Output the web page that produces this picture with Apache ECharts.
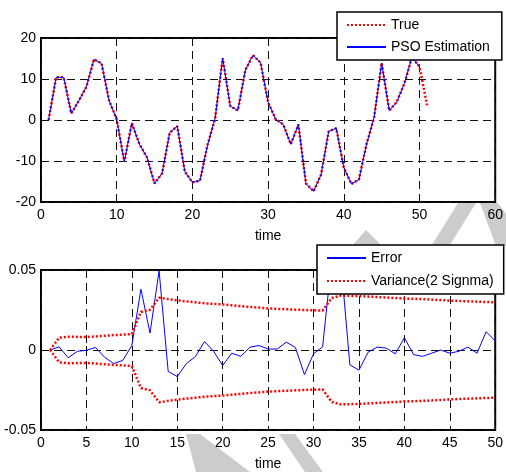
<!DOCTYPE html>
<html><head><meta charset="utf-8">
<script src="https://cdn.jsdelivr.net/npm/echarts@6/dist/echarts.min.js"></script>
<style>html,body{margin:0;padding:0;background:#fff}#c{width:506px;height:472px}</style>
</head><body><div id="c"></div>
<script>
// ---- data ----
const timeTop = [1,2,3,4,5,6,7,8,9,10,11,12,13,14,15,16,17,18,19,20,21,22,23,24,25,26,27,28,29,30,31,32,33,34,35,36,37,38,39,40,41,42,43,44,45,46,47,48,49,50,51];
const trueVals = [0,10.4,10.4,1.6,4.7,8.1,14.8,13.8,4.7,0.2,-10.2,-0.8,-5.9,-9.1,-15.5,-13.0,-3.1,-1.5,-12.6,-15.2,-14.8,-6.1,0.4,15.1,3.4,2.3,12.2,15.8,14.0,4.3,0.2,-1.1,-5.9,-1.1,-15.5,-17.4,-13.3,-2.8,-2.0,-11.6,-15.6,-14.5,-5.9,0.6,13.9,2.3,4.4,8.9,15.3,13.0,3.6];
const psoVals = [0,10.4,10.4,1.6,4.7,8.1,14.8,13.8,4.7,0.2,-10.2,-0.8,-5.9,-9.1,-15.5,-13.0,-3.1,-1.5,-12.6,-15.2,-14.8,-6.1,0.4,15.1,3.4,2.3,12.2,15.8,14.0,4.3,0.2,-1.1,-5.9,-1.1,-15.5,-17.4,-13.3,-2.8,-2.0,-11.6,-15.6,-14.5,-5.9,0.6,13.9,2.3,4.4,8.9,15.3,13.0];
const timeBottom = [1,2,3,4,5,6,7,8,9,10,11,12,13,14,15,16,17,18,19,20,21,22,23,24,25,26,27,28,29,30,31,32,33,34,35,36,37,38,39,40,41,42,43,44,45,46,47,48,49,50];
const errorVals = [0,0.002,-0.0049,-0.0008,-0.0002,0.0016,-0.0045,-0.0085,-0.0065,0.0028,0.038,0.0106,0.0495,-0.0134,-0.0166,-0.0085,-0.0041,0.0053,-0.0008,-0.0097,-0.002,-0.004,0.0018,0.0028,0.0006,0.0006,0.0049,0.0016,-0.0154,-0.0024,0.002,0.056,0.056,-0.0093,-0.0126,-0.0014,0.0018,0.0012,-0.0024,0.0077,-0.0028,-0.004,-0.002,0,-0.002,-0.0008,0.0018,-0.002,0.0114,0.0057];
const varUpper = [0,0.0077,0.0083,0.0082,0.0081,0.0085,0.0089,0.0093,0.0096,0.0100,0.0238,0.0252,0.0326,0.0318,0.0310,0.0304,0.0298,0.0292,0.0288,0.0285,0.0279,0.0274,0.0269,0.0265,0.0260,0.0257,0.0255,0.0252,0.0250,0.0248,0.0246,0.0325,0.0340,0.0339,0.0337,0.0334,0.0331,0.0328,0.0325,0.0322,0.0320,0.0318,0.0315,0.0312,0.0309,0.0306,0.0304,0.0302,0.0300,0.0298];
const varLower = [0,-0.0077,-0.0083,-0.0082,-0.0081,-0.0085,-0.0089,-0.0093,-0.0096,-0.0100,-0.0238,-0.0252,-0.0326,-0.0318,-0.0310,-0.0304,-0.0298,-0.0292,-0.0288,-0.0285,-0.0279,-0.0274,-0.0269,-0.0265,-0.0260,-0.0257,-0.0255,-0.0252,-0.0250,-0.0248,-0.0246,-0.0325,-0.0340,-0.0339,-0.0337,-0.0334,-0.0331,-0.0328,-0.0325,-0.0322,-0.0320,-0.0318,-0.0315,-0.0312,-0.0309,-0.0306,-0.0304,-0.0302,-0.0300,-0.0298];
const topXRange = [0, 60, 10];
const topYRange = [-20, 20, 10];
const botXRange = [0, 50, 5];
const botYRange = [-0.05, 0.05, 0.05];

const FONT = 'Liberation Sans, Arial, sans-serif';
const pairs = (xs, ys) => ys.map((v, i) => [xs[i], v]);

function xAx(grid, r) {
  return {
    gridIndex: grid, type: 'value', min: r[0], max: r[1], interval: r[2],
    axisLine: { show: false },
    axisTick: { show: true, inside: true, length: 4, lineStyle: { color: '#000' } },
    axisLabel: { color: '#000', fontSize: 14, margin: 6, fontFamily: FONT },
    splitLine: { show: true, lineStyle: { color: '#111', width: 1, type: [8, 5] } },
    name: 'time', nameLocation: 'middle', nameGap: 27,
    nameTextStyle: { color: '#000', fontSize: 14, fontFamily: FONT }
  };
}
function yAx(grid, r, fmt) {
  return {
    gridIndex: grid, type: 'value', min: r[0], max: r[1], interval: r[2],
    axisLine: { show: false },
    axisTick: { show: true, inside: true, length: 4, lineStyle: { color: '#000' } },
    axisLabel: { color: '#000', fontSize: 14, margin: 5, fontFamily: FONT, formatter: fmt },
    splitLine: { show: true, lineStyle: { color: '#111', width: 1, type: [8, 5] } }
  };
}
const redDot = { color: '#ff0000', width: 2.5, type: [2, 2] };
const blue = { color: '#0000ff', width: 1 };
const legendBase = {
  orient: 'vertical', itemWidth: 39, itemHeight: 14,
  backgroundColor: '#fff', borderColor: '#000', borderWidth: 1.5, selectedMode: false,
  itemStyle: { opacity: 0, borderWidth: 0 },
  textStyle: { fontSize: 14, color: '#000', fontFamily: FONT }
};

const chart = echarts.init(document.getElementById('c'), null, { renderer: 'canvas' });
chart.setOption({
  animation: false,
  backgroundColor: '#fff',
  graphic: { elements: [
    { type: 'polygon', z: -10, silent: true, shape: { points: [[430,248],[448,248],[476,203],[458,203]] }, style: { fill: '#cccccc' } },
    { type: 'polygon', z: -10, silent: true, shape: { points: [[480,203],[498,203],[506,214],[506,246],[496,246]] }, style: { fill: '#cccccc' } },
    { type: 'polygon', z: -10, silent: true, shape: { points: [[352,246],[366,230],[382,246]] }, style: { fill: '#cccccc' } },
    { type: 'polygon', z: -10, silent: true, shape: { points: [[186,434],[200,434],[250,472],[196,472]] }, style: { fill: '#cccccc' } },
    { type: 'polygon', z: -10, silent: true, shape: { points: [[279,434],[295,434],[323,472],[305,472]] }, style: { fill: '#cccccc' } }
  ]},
  grid: [
    { left: 41, top: 38, width: 460, height: 164, show: true, backgroundColor: '#fff', borderColor: '#000', borderWidth: 2 },
    { left: 41, top: 270, width: 460, height: 164, show: true, backgroundColor: '#fff', borderColor: '#000', borderWidth: 2 }
  ],
  xAxis: [ xAx(0, topXRange), xAx(1, botXRange) ],
  yAxis: [
    yAx(0, topYRange),
    yAx(1, botYRange, v => (Math.abs(v) < 1e-9 ? '0' : v.toFixed(2)))
  ],
  legend: [
    Object.assign({}, legendBase, { data: ['True', 'PSO Estimation'], left: 337, top: 12,
      padding: [6, 12, 6, 9], itemGap: 8 }),
    Object.assign({}, legendBase, { data: ['Error', 'Variance(2 Signma)'], left: 317, top: 245,
      padding: [6, 10, 6, 9], itemGap: 9 })
  ],
  series: [
    { name: 'True', type: 'line', xAxisIndex: 0, yAxisIndex: 0, data: pairs(timeTop, trueVals),
      symbol: 'none', lineStyle: redDot, itemStyle: { color: '#ff0000' }, z: 2 },
    { name: 'PSO Estimation', type: 'line', xAxisIndex: 0, yAxisIndex: 0, data: pairs(timeTop, psoVals),
      symbol: 'none', lineStyle: blue, itemStyle: { color: '#0000ff' }, z: 3 },
    { name: 'Error', type: 'line', xAxisIndex: 1, yAxisIndex: 1, data: pairs(timeBottom, errorVals),
      symbol: 'none', lineStyle: blue, itemStyle: { color: '#0000ff' }, z: 2 },
    { name: 'Variance(2 Signma)', type: 'line', xAxisIndex: 1, yAxisIndex: 1, data: pairs(timeBottom, varUpper),
      symbol: 'none', lineStyle: redDot, itemStyle: { color: '#ff0000' }, z: 3 },
    { name: 'Variance(2 Signma)', type: 'line', xAxisIndex: 1, yAxisIndex: 1, data: pairs(timeBottom, varLower),
      symbol: 'none', lineStyle: redDot, itemStyle: { color: '#ff0000' }, z: 3 }
  ]
});
</script></body></html>
